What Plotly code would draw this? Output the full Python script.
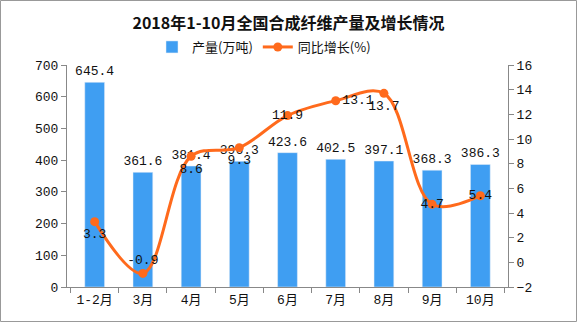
import plotly.graph_objects as go

categories = ["1-2月", "3月", "4月", "5月", "6月", "7月", "8月", "9月", "10月"]
output = [645.4, 361.6, 381.4, 396.3, 423.6, 402.5, 397.1, 368.3, 386.3]
growth = [3.3, -0.9, 8.6, 9.3, 11.9, 13.1, 13.7, 4.7, 5.4]
growth_pos = ["bottom center", "top center", "bottom center", "bottom center",
              "middle center", "middle right", "bottom center", "middle center", "middle center"]

W, H = 577, 323
L, R, T, B = 67, 69, 65, 36
font_fam = "'Liberation Mono', 'Noto Sans CJK SC', monospace"
title_fam = "'Noto Sans CJK SC', sans-serif"

fig = go.Figure()
fig.add_trace(go.Bar(
    x=categories, y=output, name="产量(万吨)",
    marker=dict(color="#3F9EF2"),
    text=[f"{v:.1f}" for v in output], textposition="outside",
    constraintext="none",
    textfont=dict(size=13, color="#111", family=font_fam), cliponaxis=False,
))
fig.add_trace(go.Scatter(
    x=categories, y=growth, name="同比增长(%)", yaxis="y2",
    mode="lines+markers+text",
    line=dict(color="#FF6A1C", width=3, shape="spline", smoothing=1.0),
    marker=dict(size=9, color="#FF6A1C"),
    text=[f"{v:.1f}" for v in growth], textposition=growth_pos,
    textfont=dict(size=13, color="#111", family=font_fam), cliponaxis=False,
))

pw = W - L - R
ph = H - T - B
def px2x(p):
    return (p - L) / pw
def py2y(p):
    return 1 - (p - T) / ph

fig.update_layout(
    width=W, height=H,
    margin=dict(l=L, r=R, t=T, b=B),
    paper_bgcolor="white", plot_bgcolor="white",
    font=dict(family=font_fam, size=13, color="#111"),
    title=dict(text="<b>2018年1-10月全国合成纤维产量及增长情况</b>",
               x=0.5, xanchor="center", y=1 - 23 / H, yanchor="middle",
               font=dict(size=16, color="#111", family=title_fam)),
    legend=dict(orientation="h", x=px2x(152), xanchor="left", y=py2y(47),
                yanchor="middle", font=dict(size=13, family=title_fam),
                itemwidth=30, bgcolor="rgba(0,0,0,0)"),
    bargap=0.59,
    showlegend=True,
    xaxis=dict(showline=True, linecolor="#888", linewidth=1,
               ticks="outside", tickcolor="#888", ticklen=5,
               tickson="boundaries", showgrid=False,
               tickfont=dict(size=13, family=font_fam)),
    yaxis=dict(range=[0, 700], dtick=100, showline=True, linecolor="#888",
               ticks="outside", tickcolor="#888", ticklen=5, showgrid=False,
               zeroline=False, tickfont=dict(size=13, family=font_fam)),
    yaxis2=dict(range=[-2, 16], dtick=2, overlaying="y", side="right",
                showline=True, linecolor="#888", ticks="outside",
                tickcolor="#888", ticklen=5, showgrid=False, zeroline=False,
                tickfont=dict(size=13, family=font_fam)),
)

fig.add_shape(type="rect", xref="paper", yref="paper",
              x0=px2x(0.5), x1=px2x(W - 0.5), y0=py2y(H - 1.5), y1=py2y(0.5),
              line=dict(color="#999", width=1), layer="below")

fig.write_html("out.html")
